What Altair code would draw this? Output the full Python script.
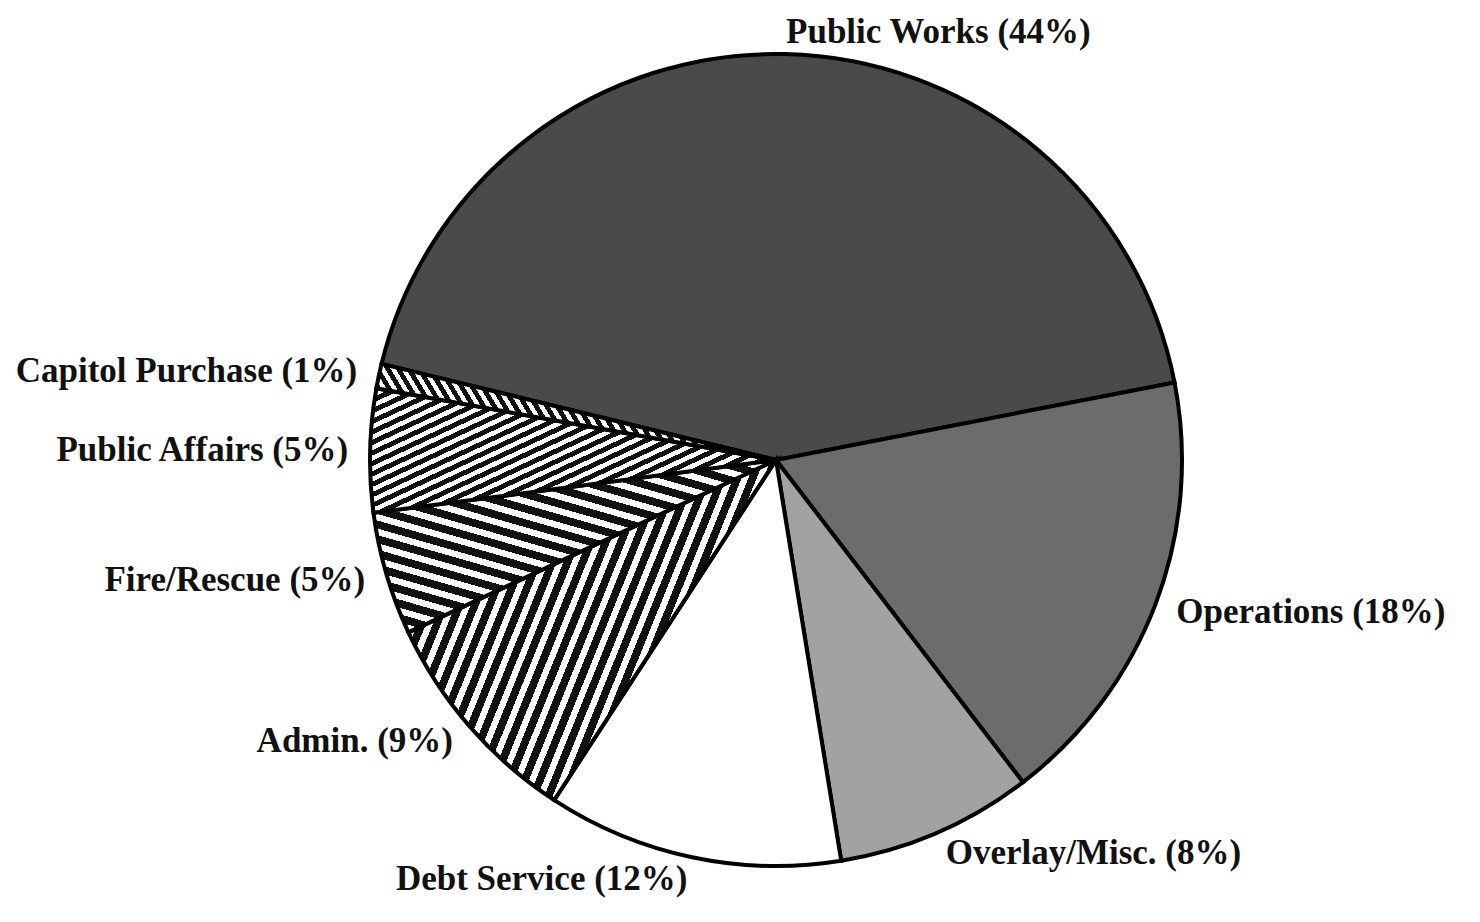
import math
import altair as alt
import pandas as pd

# ---- data ----
categories = ["Public Works", "Operations", "Overlay/Misc.", "Debt Service",
              "Admin.", "Fire/Rescue", "Public Affairs", "Capitol Purchase"]
percents = [44, 18, 8, 12, 9, 5, 5, 1]
labels = [f"{c} ({p}%)" for c, p in zip(categories, percents)]

df = pd.DataFrame({"category": categories, "value": percents,
                   "label": labels, "order": list(range(len(categories)))})
total = sum(percents)

# ---- layout / style ----
R = 406                      # pie radius (px)
LABEL_R = 428                # label radius (px)
START_DEG = 283.7            # where the first slice begins (clockwise from 12 o'clock)
S = math.radians(START_DEG)
W_VIEW, H_VIEW, PAD_L = 1392, 904, 72

solid_fills = {
    "Public Works": "#4a4a4a",
    "Operations": "#6c6c6c",
    "Overlay/Misc.": "#a2a2a2",
    "Debt Service": "#ffffff",
}
# stripe line angle (deg, counter-clockwise from horizontal), period px, black share
stripes = {
    "Admin.": (68, 14, 0.55),
    "Fire/Rescue": (-16, 14, 0.55),
    "Public Affairs": (25, 9.5, 0.52),
    "Capitol Purchase": (-59, 9, 0.52),
}


def slice_bbox(a0, a1):
    pts = [(0.0, 0.0)]
    for a in (a0, a1):
        pts.append((R * math.sin(math.radians(a)), -R * math.cos(math.radians(a))))
    k = math.ceil(a0 / 90.0)
    while k * 90 < a1:
        a = k * 90
        pts.append((R * math.sin(math.radians(a)), -R * math.cos(math.radians(a))))
        k += 1
    xs = [p[0] for p in pts]
    ys = [p[1] for p in pts]
    return max(xs) - min(xs), max(ys) - min(ys)


def stripe_gradient(a0, a1, ang, period, duty):
    W, H = slice_bbox(a0, a1)
    t = math.radians(ang)
    nx, ny = math.sin(t), math.cos(t)
    D = W * abs(nx) + H * abs(ny)
    den = W * W * nx * nx + H * H * ny * ny
    gx, gy = W * nx * D / den, H * ny * D / den
    x1 = 0.0 if nx >= 0 else 1.0
    y1 = 0.0 if ny >= 0 else 1.0
    K = D / period
    stops = []
    i = 0
    while i / K < 1:
        b0 = i / K
        b1 = min((i + duty) / K, 1.0)
        e = min((i + 1) / K, 1.0)
        stops += [alt.GradientStop(offset=b0, color="#111111"),
                  alt.GradientStop(offset=b1, color="#111111"),
                  alt.GradientStop(offset=b1, color="#ffffff"),
                  alt.GradientStop(offset=e, color="#ffffff")]
        i += 1
    return alt.LinearGradient(gradient="linear", stops=stops,
                              x1=x1, y1=y1, x2=x1 + gx, y2=y1 + gy)


theta_scale = alt.Scale(domain=[0, total], range=[S, S + 2 * math.pi])

base = alt.Chart(df).transform_window(
    cum="sum(value)", sort=[alt.SortField("order")], frame=[None, 0]
).transform_calculate(
    start="datum.cum - datum.value",
    mid="datum.cum - datum.value / 2",
)

layers = []
cum = 0
for cat, v in zip(categories, percents):
    a0 = START_DEG + 360.0 * cum / total
    a1 = a0 + 360.0 * v / total
    cum += v
    if cat in solid_fills:
        fill = solid_fills[cat]
    else:
        fill = stripe_gradient(a0, a1, *stripes[cat])
    layers.append(
        base.transform_filter(alt.datum.category == cat)
        .mark_arc(radius=R, fill=fill, stroke="black", strokeWidth=4,
                  strokeJoin="miter")
        .encode(theta=alt.Theta("start:Q", scale=theta_scale, stack=False),
                theta2="cum:Q")
    )

text_base = base.transform_calculate(
    side=f"sin({S} + 2 * PI * datum.mid / {total}) >= 0 ? 'R' : 'L'"
)
for side, align in (("R", "left"), ("L", "right")):
    layers.append(
        text_base.transform_filter(alt.datum.side == side)
        .mark_text(radius=LABEL_R, align=align, baseline="middle",
                   font="Liberation Serif", fontSize=35, fontWeight="bold",
                   color="#111111")
        .encode(theta=alt.Theta("mid:Q", scale=theta_scale, stack=False),
                text="label:N")
    )

chart = alt.layer(*layers).properties(
    width=W_VIEW, height=H_VIEW,
    padding={"left": PAD_L, "top": 0, "right": 0, "bottom": 0},
    autosize=alt.AutoSizeParams(type="none"),
    background="white",
).configure_view(stroke=None)

chart.save("out.html", embed_options={"renderer": "svg", "actions": False})
